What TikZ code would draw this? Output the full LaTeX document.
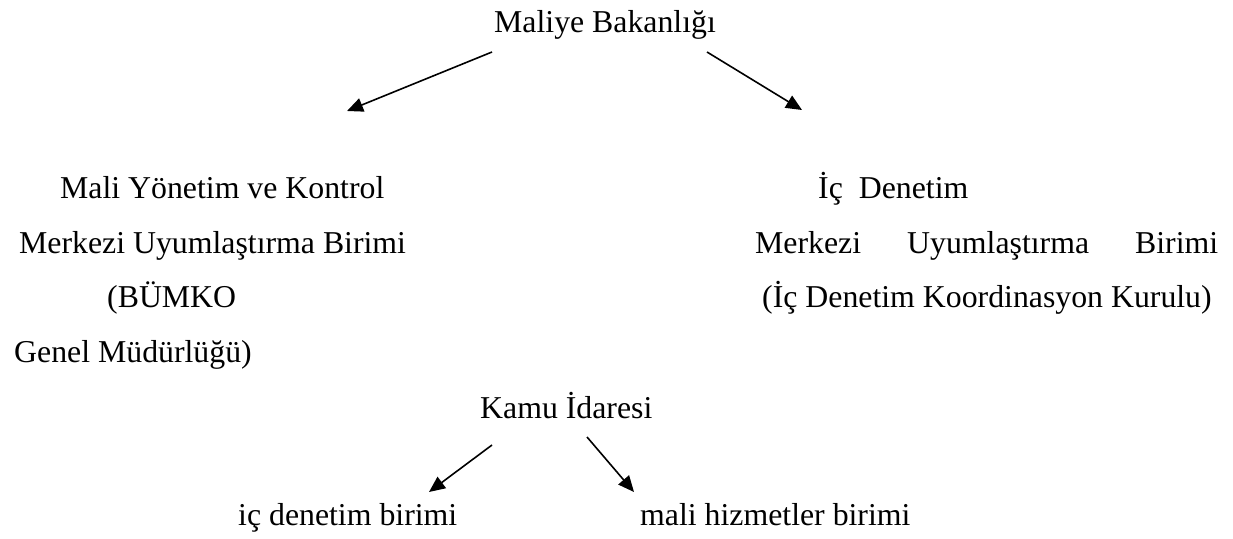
\documentclass[tikz,border=0pt]{standalone}
\usepackage{fontspec}
\setmainfont{Liberation Serif}
\usetikzlibrary{arrows.meta}
\begin{document}
\begin{tikzpicture}[x=1pt,y=-1pt,
  lbl/.style={anchor=base west,inner sep=0pt,font=\fontsize{31.8}{38}\selectfont},
  arr/.style={line width=1.6pt,-{Triangle[length=16pt,width=14pt]}}]
\useasboundingbox (0,0) rectangle (1233,538);
% top
\node[lbl] (mb) at (494,32) {Maliye Bakanlığı};
% left block
\node[lbl] (l1) at (60,198) {Mali Yönetim ve Kontrol};
\node[lbl] (l2) at (19,253) {Merkezi Uyumlaştırma Birimi};
\node[lbl] (l3) at (107,307) {(BÜMKO};
\node[lbl] (l4) at (14,362) {Genel Müdürlüğü)};
% right block
\node[lbl] (r1) at (818,198) {İç\ \ Denetim};
\node[lbl] (r2) at (755,253) {\hbox to 463pt{Merkezi\hfill Uyumlaştırma\hfill Birimi}};
\node[lbl] (r3) at (762,307) {(İç Denetim Koordinasyon Kurulu)};
% kamu
\node[lbl] (ki) at (480,418) {Kamu İdaresi};
\node[lbl] (b1) at (238,525) {iç denetim birimi};
\node[lbl] (b2) at (640,525) {mali hizmetler birimi};
% arrow ends
\coordinate (a1s) at (492,52);
\coordinate (a1e) at (347,111);
\coordinate (a2s) at (707,52);
\coordinate (a2e) at (802,110);
\coordinate (a3s) at (492,445);
\coordinate (a3e) at (429,492);
\coordinate (a4s) at (587,437);
\coordinate (a4e) at (634,492);
\draw[arr] (a1s) -- (a1e);
\draw[arr] (a2s) -- (a2e);
\draw[arr] (a3s) -- (a3e);
\draw[arr] (a4s) -- (a4e);
\end{tikzpicture}
\end{document}
